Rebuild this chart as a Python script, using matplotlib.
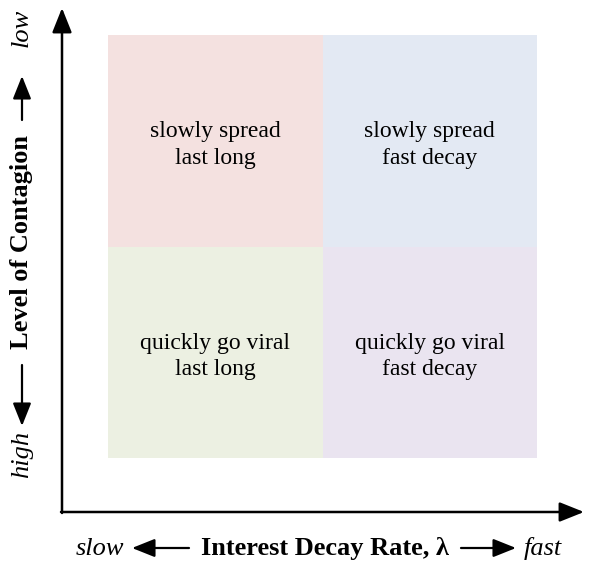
import matplotlib
matplotlib.use("Agg")
import matplotlib.pyplot as plt
from matplotlib.patches import Rectangle, FancyArrowPatch

plt.rcParams['font.family'] = ['Liberation Serif', 'DejaVu Serif']

# Data: quadrant grid (columns = decay rate, rows = contagion level)
decay_levels = ["slow", "fast"]
contagion_levels = ["high", "low"]
quadrant_texts = [["quickly go viral\nlast long", "quickly go viral\nfast decay"],
                  ["slowly spread\nlast long", "slowly spread\nfast decay"]]
quadrant_colors = [["#ECF0E2", "#EAE4F0"],
                   ["#F4E1E0", "#E3E9F3"]]
x_title = "Interest Decay Rate, λ"
y_title = "Level of Contagion"

W, H = 590, 568
fig = plt.figure(figsize=(W / 100, H / 100), dpi=100)

def fx(px):
    return px / W

def fy(py):
    return 1 - py / H

# Quadrant axes
ax = fig.add_axes([fx(108), fy(458), fx(537) - fx(108), fy(35) - fy(458)])
ax.set_xlim(0, len(decay_levels))
ax.set_ylim(0, len(contagion_levels))
ax.axis("off")
for r, _ in enumerate(contagion_levels):
    for c, _ in enumerate(decay_levels):
        ax.add_patch(Rectangle((c, r), 1, 1, facecolor=quadrant_colors[r][c],
                               edgecolor="none"))
        ax.text(c + 0.5, r + 0.5 - 0.02, quadrant_texts[r][c], ha="center",
                va="center", fontsize=17, linespacing=1.35)

# Main axis arrows
arrow_kw = dict(arrowstyle="-|>,head_length=1.0,head_width=0.4", color="black",
                lw=1.8, shrinkA=0, shrinkB=0)
fig.add_artist(FancyArrowPatch(
    (fx(62), fy(513)), (fx(62), fy(8)), transform=fig.transFigure,
    mutation_scale=15, **arrow_kw))
fig.add_artist(FancyArrowPatch(
    (fx(61), fy(512)), (fx(584), fy(512)), transform=fig.transFigure,
    mutation_scale=15, **arrow_kw))

small_kw = dict(arrowstyle="-|>,head_length=1.0,head_width=0.4", color="black",
                lw=1.6, shrinkA=0, shrinkB=0)

# Bottom label
yb = fy(549)
fig.text(fx(100), yb, "slow", style="italic", fontsize=19, ha="center", va="center")
fig.add_artist(FancyArrowPatch(
    (fx(189), fy(548)), (fx(132), fy(548)), transform=fig.transFigure,
    mutation_scale=14, **small_kw))
fig.text(fx(325), yb, x_title, fontweight="bold", fontsize=19, ha="center",
         va="center")
fig.add_artist(FancyArrowPatch(
    (fx(461), fy(548)), (fx(516), fy(548)), transform=fig.transFigure,
    mutation_scale=14, **small_kw))
fig.text(fx(543), yb, "fast", style="italic", fontsize=19, ha="center", va="center")

# Left label
xl = fx(22)
fig.text(xl, fy(28), "low", style="italic", fontsize=19, ha="center", va="center",
         rotation=90)
fig.add_artist(FancyArrowPatch(
    (xl, fy(120)), (xl, fy(76)), transform=fig.transFigure,
    mutation_scale=14, **small_kw))
fig.text(xl, fy(242), y_title, fontweight="bold", fontsize=19, ha="center",
         va="center", rotation=90)
fig.add_artist(FancyArrowPatch(
    (xl, fy(365)), (xl, fy(426)), transform=fig.transFigure,
    mutation_scale=14, **small_kw))
fig.text(xl, fy(454), "high", style="italic", fontsize=19, ha="center", va="center",
         rotation=90)

fig.savefig("out.png", dpi=100)
